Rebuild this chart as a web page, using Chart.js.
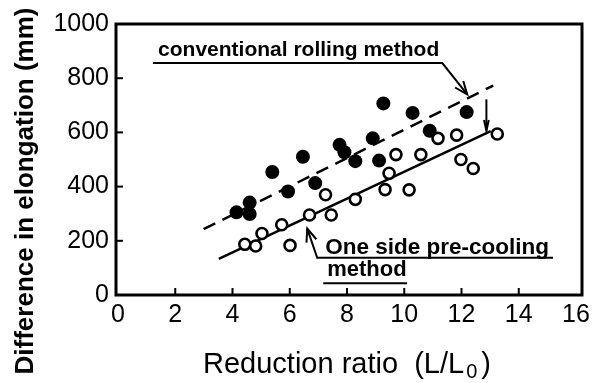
<!DOCTYPE html>
<html>
<head>
<meta charset="utf-8">
<script src="https://cdn.jsdelivr.net/npm/chart.js@4.4.0/dist/chart.umd.min.js"></script>
<style>
  body { margin: 0; background: #fff; }
  canvas { display: block; }
</style>
</head>
<body>
<canvas id="myChart" width="602" height="383"></canvas>
<script>
// conventional rolling method (filled circles)
var convX = [4.14, 4.60, 4.60, 5.39, 5.94, 6.46, 6.89, 7.74, 7.91, 8.29, 8.90, 9.12, 9.27, 10.29, 10.89, 12.18];
var convY = [305, 341, 299, 454, 382, 510, 413, 554, 527, 494, 578, 496, 707, 672, 606, 675];
// one side pre-cooling method (open circles)
var coolX = [4.43, 4.81, 5.03, 5.72, 6.01, 6.69, 7.25, 7.45, 8.29, 9.33, 9.47, 9.71, 10.17, 10.58, 11.18, 11.83, 11.98, 12.41, 13.25];
var coolY = [187, 181, 227, 259, 183, 295, 370, 295, 353, 389, 449, 518, 388, 518, 578, 590, 500, 467, 594];
// fitted lines
var convFitX = [2.99, 13.11];
var convFitY = [243, 773];
var coolFitX = [3.52, 13.02];
var coolFitY = [133, 605];
// axes
var xTicks = [0, 2, 4, 6, 8, 10, 12, 14, 16];
var yTicks = [0, 200, 400, 600, 800, 1000];

function pts(xs, ys) {
    var out = [];
    for (var i = 0; i < xs.length; i++) out.push({x: xs[i], y: ys[i]});
    return out;
}

// annotation placement, in data units
var convLabel = {x: 1.4, y: 903, text: 'conventional rolling method'};
var convLeader = [[1.22, 856], [11.33, 856], [12.2, 740]];
var dropArrow = [[12.87, 722], [12.87, 606]];
var coolLabel = {x: 7.24, y: 173, text: 'One side pre-cooling'};
var coolLeader = [[15.2, 137], [6.96, 137], [6.61, 245]];
var coolLabel2 = {x: 7.31, y: 94, text: 'method'};
var coolUnder2 = [[7.17, 43], [10.1, 43]];

var FONT = '"Liberation Sans", Arial, Helvetica, sans-serif';

function arrowHead(ctx, x0, y0, x1, y1, len, ang) {
    var a = Math.atan2(y1 - y0, x1 - x0);
    ctx.beginPath();
    ctx.moveTo(x1 - len * Math.cos(a - ang), y1 - len * Math.sin(a - ang));
    ctx.lineTo(x1, y1);
    ctx.lineTo(x1 - len * Math.cos(a + ang), y1 - len * Math.sin(a + ang));
    ctx.stroke();
}

var extras = {
    id: 'extras',
    afterDraw: function (chart) {
        var ctx = chart.ctx;
        var xs = chart.scales.x, ys = chart.scales.y;
        var a = chart.chartArea;
        function px(v) { return xs.getPixelForValue(v); }
        function py(v) { return ys.getPixelForValue(v); }
        function path(list) {
            ctx.beginPath();
            ctx.moveTo(px(list[0][0]), py(list[0][1]));
            for (var i = 1; i < list.length; i++) ctx.lineTo(px(list[i][0]), py(list[i][1]));
            ctx.stroke();
        }
        function headAtEnd(list, len, ang) {
            var p = list[list.length - 2], q = list[list.length - 1];
            arrowHead(ctx, px(p[0]), py(p[1]), px(q[0]), py(q[1]), len, ang);
        }

        ctx.save();
        ctx.strokeStyle = '#000';
        ctx.fillStyle = '#000';
        ctx.lineCap = 'butt';
        ctx.lineJoin = 'miter';

        // frame
        ctx.lineWidth = 3;
        ctx.strokeRect(a.left - 2, a.top, a.right - a.left + 8, a.bottom - a.top);

        // inward ticks
        ctx.lineWidth = 2;
        for (var i = 1; i < xTicks.length - 1; i++) {
            ctx.beginPath();
            ctx.moveTo(px(xTicks[i]), a.bottom);
            ctx.lineTo(px(xTicks[i]), a.bottom - 7);
            ctx.stroke();
        }
        for (var j = 1; j < yTicks.length - 1; j++) {
            ctx.beginPath();
            ctx.moveTo(a.left - 2, py(yTicks[j]));
            ctx.lineTo(a.left + 5, py(yTicks[j]));
            ctx.stroke();
        }

        // annotations
        ctx.lineWidth = 2;
        path(convLeader);
        headAtEnd(convLeader, 14, 0.38);
        path(dropArrow);
        headAtEnd(dropArrow, 11, 0.22);
        path(coolLeader);
        headAtEnd(coolLeader, 14, 0.38);
        path(coolUnder2);

        ctx.textBaseline = 'middle';
        ctx.textAlign = 'left';
        ctx.font = 'bold 21px ' + FONT;
        ctx.fillText(convLabel.text, px(convLabel.x), py(convLabel.y));
        ctx.font = 'bold 22.5px ' + FONT;
        ctx.fillText(coolLabel.text, px(coolLabel.x), py(coolLabel.y));
        ctx.font = 'bold 22px ' + FONT;
        ctx.fillText(coolLabel2.text, px(coolLabel2.x), py(coolLabel2.y));

        // y title
        ctx.save();
        ctx.translate(33, 191);
        ctx.rotate(-Math.PI / 2);
        ctx.font = 'bold 26px ' + FONT;
        ctx.textAlign = 'center';
        ctx.textBaseline = 'alphabetic';
        ctx.fillText('Difference in elongation (mm)', 0, 0);
        ctx.restore();

        // x title with subscript
        ctx.font = '29px ' + FONT;
        ctx.textBaseline = 'alphabetic';
        var t1 = 'Reduction ratio  (L/L', t3 = ')';
        var w1 = ctx.measureText(t1).width;
        ctx.font = '20px ' + FONT;
        var w2 = ctx.measureText('0').width + 6;
        ctx.font = '29px ' + FONT;
        var w3 = ctx.measureText(t3).width;
        var x0 = (a.left + a.right) / 2 - (w1 + w2 + w3) / 2;
        var base = 373;
        ctx.fillText(t1, x0, base);
        ctx.font = '20px ' + FONT;
        ctx.fillText('0', x0 + w1 + 2, base + 5);
        ctx.font = '29px ' + FONT;
        ctx.fillText(t3, x0 + w1 + w2, base);
        ctx.restore();
    }
};

var ctx = document.getElementById('myChart').getContext('2d');
var chart = new Chart(ctx, {
    type: 'scatter',
    data: {
        datasets: [
            {
                label: 'conventional rolling method',
                data: pts(convX, convY),
                pointRadius: 7,
                pointBackgroundColor: '#000',
                pointBorderWidth: 0,
                order: 1
            },
            {
                label: 'One side pre-cooling method',
                data: pts(coolX, coolY),
                pointRadius: 5.5,
                pointBackgroundColor: '#fff',
                pointBorderColor: '#000',
                pointBorderWidth: 2.6,
                order: 1
            },
            {
                type: 'line',
                label: 'conventional fit',
                data: pts(convFitX, convFitY),
                borderColor: '#000',
                borderWidth: 2.5,
                borderDash: [13, 8],
                pointRadius: 0,
                fill: false,
                order: 2
            },
            {
                type: 'line',
                label: 'pre-cooling fit',
                data: pts(coolFitX, coolFitY),
                borderColor: '#000',
                borderWidth: 2.5,
                pointRadius: 0,
                fill: false,
                order: 2
            }
        ]
    },
    options: {
        responsive: false,
        animation: false,
        layout: { padding: { left: 0, right: 26, top: 18, bottom: 0 } },
        plugins: { legend: { display: false }, tooltip: { enabled: false } },
        scales: {
            x: {
                type: 'linear',
                min: 0, max: 16,
                afterBuildTicks: function (s) { s.ticks = xTicks.map(function (v) { return {value: v}; }); },
                afterFit: function (s) { s.height = 88; },
                grid: { display: false, drawTicks: false },
                border: { display: false },
                ticks: { color: '#000', padding: 5, maxRotation: 0, font: { family: FONT, size: 25 },
                         callback: function (v) { return String(v); } }
            },
            y: {
                type: 'linear',
                min: 0, max: 1000,
                afterBuildTicks: function (s) { s.ticks = yTicks.map(function (v) { return {value: v}; }); },
                afterFit: function (s) { s.width = 118; },
                grid: { display: false, drawTicks: false },
                border: { display: false },
                ticks: { color: '#000', padding: 9, font: { family: FONT, size: 25 },
                         callback: function (v) { return String(v); } }
            }
        }
    },
    plugins: [extras]
});
</script>
</body>
</html>
